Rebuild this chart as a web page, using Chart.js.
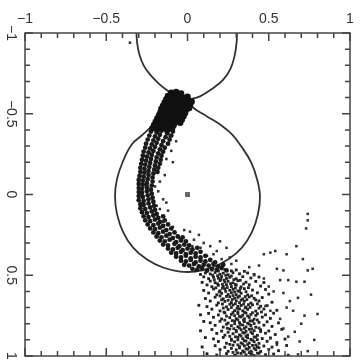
<!DOCTYPE html>
<html>
<head>
<meta charset="utf-8">
<script src="https://cdn.jsdelivr.net/npm/chart.js@4.4.0/dist/chart.umd.min.js"></script>
<style>
body { margin: 0; background: #fff; }
</style>
</head>
<body>
<canvas id="roche" width="360" height="360"></canvas>
<script>
// tick positions and labels (same on both axes)
const majorTicks = [-1, -0.5, 0, 0.5, 1];
const minorTicks = [-0.9, -0.8, -0.7, -0.6, -0.4, -0.3, -0.2, -0.1, 0.1, 0.2, 0.3, 0.4, 0.6, 0.7, 0.8, 0.9];
const tickLabels = ['\u22121', '\u22120.5', '0', '0.5', '1'];

// critical (Roche) surface
const upperLobeLeft = [[0.003,-0.588],[-0.07,-0.61],[-0.13,-0.648],[-0.18,-0.69],[-0.23,-0.742],[-0.27,-0.8],[-0.297,-0.87],[-0.31,-0.94],[-0.314,-1.0]];
const upperLobeRight = [[0.003,-0.588],[0.077,-0.608],[0.159,-0.66],[0.22,-0.711],[0.265,-0.78],[0.29,-0.86],[0.302,-0.94],[0.305,-1.0]];
const lowerLobe = [[0.003,-0.588],[0.036,-0.537],[0.118,-0.485],[0.2,-0.434],[0.274,-0.372],[0.335,-0.292],[0.391,-0.2],[0.428,-0.095],
  [0.446,0.009],[0.434,0.12],[0.397,0.231],[0.335,0.329],[0.249,0.403],[0.151,0.452],[0.046,0.477],[-0.046,0.477],[-0.151,0.452],
  [-0.249,0.403],[-0.335,0.329],[-0.397,0.231],[-0.434,0.12],[-0.446,0.009],[-0.434,-0.095],[-0.397,-0.206],[-0.342,-0.311],
  [-0.274,-0.372],[-0.2,-0.44],[-0.132,-0.495],[-0.065,-0.551],[0.003,-0.588]];

// the accretor
const primaryStar = [[0, 0]];

// dense clump at L1
const blobPoints = [
  [-0.1,-0.63],[-0.07,-0.635],[-0.04,-0.625],
  [-0.12,-0.61],[-0.09,-0.605],[-0.06,-0.61],[-0.03,-0.6],[0.0,-0.605],
  [-0.13,-0.59],[-0.1,-0.585],[-0.07,-0.59],[-0.04,-0.58],[-0.01,-0.59],[0.01,-0.58],
  [-0.14,-0.57],[-0.11,-0.565],[-0.08,-0.57],[-0.05,-0.56],[-0.02,-0.57],[0.01,-0.565],[0.025,-0.575],
  [-0.15,-0.55],[-0.12,-0.545],[-0.09,-0.55],[-0.06,-0.54],[-0.03,-0.55],[0.0,-0.545],[0.015,-0.555],
  [-0.16,-0.53],[-0.13,-0.525],[-0.1,-0.53],[-0.07,-0.52],[-0.04,-0.53],[-0.01,-0.525],[0.01,-0.535],
  [-0.165,-0.51],[-0.135,-0.505],[-0.105,-0.51],[-0.075,-0.5],[-0.045,-0.51],[-0.015,-0.505],
  [-0.175,-0.49],[-0.145,-0.485],[-0.115,-0.49],[-0.085,-0.48],[-0.055,-0.49],[-0.025,-0.485],
  [-0.185,-0.47],[-0.155,-0.465],[-0.125,-0.47],[-0.095,-0.46],[-0.065,-0.47],[-0.035,-0.465],
  [-0.195,-0.45],[-0.165,-0.445],[-0.135,-0.45],[-0.105,-0.44],[-0.075,-0.45],[-0.045,-0.445],
  [-0.205,-0.43],[-0.175,-0.425],[-0.145,-0.43],[-0.115,-0.42],[-0.085,-0.43],
  [-0.215,-0.41],[-0.185,-0.405],[-0.155,-0.41],[-0.125,-0.4],[-0.095,-0.41]
];

// stream curving round inside the lower lobe
const streamPoints = [
  [-0.225,-0.39],[-0.19,-0.385],[-0.16,-0.395],[-0.125,-0.38],[-0.09,-0.39],
  [-0.235,-0.365],[-0.2,-0.36],[-0.17,-0.37],[-0.135,-0.355],[-0.1,-0.365],
  [-0.245,-0.34],[-0.21,-0.335],[-0.18,-0.345],[-0.15,-0.33],[-0.11,-0.34],
  [-0.255,-0.315],[-0.22,-0.31],[-0.19,-0.32],[-0.16,-0.305],[-0.12,-0.315],
  [-0.26,-0.29],[-0.23,-0.285],[-0.2,-0.295],[-0.17,-0.28],[-0.14,-0.29],
  [-0.27,-0.265],[-0.24,-0.26],[-0.21,-0.27],[-0.18,-0.255],[-0.15,-0.265],
  [-0.275,-0.24],[-0.25,-0.235],[-0.22,-0.245],[-0.19,-0.23],[-0.16,-0.24],
  [-0.28,-0.215],[-0.255,-0.21],[-0.225,-0.22],[-0.195,-0.205],[-0.165,-0.215],
  [-0.285,-0.19],[-0.26,-0.185],[-0.23,-0.195],[-0.2,-0.18],[-0.17,-0.19],
  [-0.29,-0.165],[-0.265,-0.16],[-0.235,-0.17],[-0.205,-0.155],[-0.18,-0.165],
  [-0.29,-0.14],[-0.265,-0.135],[-0.24,-0.145],[-0.21,-0.13],[-0.185,-0.14],
  [-0.295,-0.115],[-0.27,-0.11],[-0.24,-0.12],[-0.215,-0.105],
  [-0.3,-0.09],[-0.275,-0.085],[-0.245,-0.095],[-0.215,-0.08],
  [-0.3,-0.065],[-0.275,-0.06],[-0.25,-0.07],[-0.22,-0.055],
  [-0.3,-0.04],[-0.28,-0.035],[-0.25,-0.045],[-0.225,-0.03],
  [-0.3,-0.015],[-0.28,-0.01],[-0.25,-0.02],[-0.22,-0.005],
  [-0.3,0.01],[-0.275,0.015],[-0.245,0.005],[-0.215,0.02],
  [-0.3,0.035],[-0.27,0.04],[-0.24,0.03],[-0.21,0.045],
  [-0.29,0.06],[-0.27,0.065],[-0.24,0.055],[-0.205,0.07],
  [-0.29,0.085],[-0.26,0.09],[-0.23,0.08],[-0.2,0.095],
  [-0.28,0.11],[-0.25,0.115],[-0.22,0.105],[-0.19,0.12],
  [-0.27,0.135],[-0.24,0.14],[-0.21,0.13],[-0.18,0.145],[-0.15,0.135],
  [-0.26,0.16],[-0.23,0.165],[-0.2,0.155],[-0.17,0.17],[-0.14,0.16],
  [-0.245,0.185],[-0.21,0.19],[-0.18,0.18],[-0.15,0.195],[-0.12,0.185],
  [-0.23,0.21],[-0.2,0.215],[-0.17,0.205],[-0.13,0.22],[-0.1,0.21],
  [-0.21,0.235],[-0.18,0.24],[-0.15,0.23],[-0.11,0.245],[-0.08,0.235],
  [-0.19,0.26],[-0.16,0.265],[-0.13,0.255],[-0.09,0.27],[-0.06,0.26],[-0.03,0.265],
  [-0.17,0.285],[-0.14,0.29],[-0.11,0.28],[-0.07,0.295],[-0.04,0.285],[-0.01,0.29],
  [-0.15,0.31],[-0.12,0.315],[-0.08,0.305],[-0.05,0.32],[-0.02,0.31],[0.01,0.315],
  [-0.12,0.335],[-0.09,0.34],[-0.06,0.33],[-0.03,0.345],[0.0,0.335],[0.03,0.34],[0.06,0.33],
  [-0.1,0.36],[-0.07,0.365],[-0.04,0.355],[-0.01,0.37],[0.02,0.36],[0.05,0.365],[0.08,0.355],
  [-0.07,0.385],[-0.04,0.39],[-0.01,0.38],[0.02,0.395],[0.05,0.385],[0.08,0.39],[0.11,0.38],
  [-0.04,0.41],[-0.01,0.415],[0.02,0.405],[0.05,0.42],[0.08,0.41],[0.11,0.415],[0.14,0.405],[0.17,0.42],
  [-0.02,0.435],[0.01,0.44],[0.04,0.43],[0.07,0.445],[0.1,0.435],[0.13,0.44],[0.16,0.43],[0.19,0.445],[0.22,0.435],
  [0.03,0.46],[0.06,0.465],[0.09,0.455],[0.12,0.47],[0.15,0.46],[0.18,0.465],[0.21,0.455],[0.24,0.47]
];

// loose particles beside the stream and to the right
const speckPoints = [
  [-0.11,-0.36],[-0.07,-0.33],[-0.1,-0.27],[-0.13,-0.22],[-0.09,-0.2],[-0.14,-0.12],[-0.17,-0.08],[-0.18,-0.02],
  [-0.15,0.03],[-0.19,0.07],[-0.17,0.09],[-0.21,0.05],[-0.15,0.17],[-0.09,0.2],[0.015,0.23],[-0.05,0.27],
  [0.03,0.32],[0.08,0.33],[0.14,0.32],[0.2,0.29],[0.18,0.35],[0.24,0.33],[0.12,0.38],[0.16,0.37],[0.21,0.4],
  [0.26,0.39],[0.04,0.28],[0.1,0.3],[-0.12,0.1],[-0.13,0.05],[-0.02,0.22],[0.07,0.25],[-0.2,-0.05],[0.27,0.43],
  [0.3,0.41],[-0.354,-0.94],
  [0.74,0.12],[0.74,0.16],[0.73,0.21],[0.67,0.32],[0.47,0.37],[0.51,0.36],[0.54,0.35],[0.61,0.37],[0.71,0.4],
  [0.55,0.46],[0.59,0.47],[0.77,0.46],[0.74,0.47],[0.47,0.52],[0.57,0.53],[0.62,0.53],[0.67,0.54],[0.72,0.54],
  [0.53,0.6],[0.59,0.61],[0.68,0.64],[0.61,0.7],[0.65,0.72],[0.72,0.75],[0.8,0.74],[0.48,0.69],[0.51,0.72],
  [0.57,0.77],[0.59,0.83],[0.66,0.85],[0.69,0.91],[0.51,0.89],[0.55,0.93],[0.74,0.97],[0.68,0.99],[0.44,0.44],
  [0.38,0.45],[0.41,0.5],[0.5,0.57],[0.63,0.66],[0.76,0.62],[0.62,0.88],[0.7,0.8],[0.78,0.9]
];

// spray below the lobe
const tailPoints = [
  [0.05,0.472],[0.09,0.466],[0.12,0.475],[0.15,0.468],[0.19,0.474],[0.23,0.465],[0.27,0.473],[0.3,0.467],[0.35,0.476],
  [0.08,0.495],[0.11,0.486],[0.14,0.492],[0.17,0.483],[0.2,0.494],[0.22,0.487],[0.25,0.497],[0.28,0.484],[0.32,0.491],[0.37,0.486],[0.41,0.495],
  [0.1,0.51],[0.13,0.521],[0.16,0.512],[0.19,0.518],[0.21,0.508],[0.24,0.52],[0.26,0.513],[0.3,0.522],[0.34,0.509],[0.39,0.517],[0.44,0.511],
  [0.09,0.544],[0.14,0.536],[0.17,0.546],[0.2,0.533],[0.23,0.542],[0.25,0.537],[0.28,0.547],[0.31,0.534],[0.36,0.543],[0.42,0.538],[0.47,0.545],
  [0.12,0.56],[0.15,0.571],[0.19,0.562],[0.22,0.569],[0.24,0.558],[0.27,0.57],[0.3,0.561],[0.33,0.572],[0.38,0.559],[0.45,0.567],
  [0.1,0.594],[0.16,0.585],[0.2,0.596],[0.23,0.584],[0.26,0.593],[0.28,0.587],[0.31,0.597],[0.35,0.583],[0.4,0.592],[0.48,0.588],
  [0.13,0.61],[0.18,0.621],[0.21,0.612],[0.25,0.619],[0.27,0.608],[0.3,0.62],[0.33,0.611],[0.37,0.622],[0.43,0.609],[0.5,0.617],
  [0.11,0.644],[0.17,0.636],[0.22,0.646],[0.26,0.633],[0.29,0.642],[0.31,0.637],[0.34,0.647],[0.38,0.634],[0.41,0.643],[0.46,0.638],
  [0.14,0.66],[0.19,0.671],[0.23,0.662],[0.27,0.669],[0.3,0.658],[0.32,0.67],[0.35,0.661],[0.39,0.672],[0.44,0.659],[0.52,0.667],
  [0.07,0.686],[0.12,0.694],[0.18,0.685],[0.24,0.696],[0.28,0.684],[0.31,0.693],[0.33,0.687],[0.36,0.697],[0.4,0.683],[0.45,0.692],[0.49,0.688],
  [0.15,0.71],[0.2,0.721],[0.25,0.712],[0.29,0.719],[0.32,0.708],[0.34,0.72],[0.37,0.711],[0.42,0.722],[0.47,0.709],[0.55,0.717],
  [0.08,0.745],[0.13,0.736],[0.19,0.746],[0.23,0.733],[0.27,0.742],[0.31,0.737],[0.34,0.747],[0.36,0.734],[0.39,0.743],[0.43,0.738],[0.48,0.745],[0.53,0.735],
  [0.16,0.76],[0.21,0.771],[0.26,0.762],[0.3,0.769],[0.33,0.758],[0.35,0.77],[0.38,0.761],[0.41,0.772],[0.46,0.759],[0.51,0.767],
  [0.1,0.786],[0.14,0.794],[0.2,0.785],[0.25,0.796],[0.29,0.784],[0.32,0.793],[0.35,0.787],[0.37,0.797],[0.4,0.783],[0.44,0.792],[0.49,0.788],[0.56,0.795],
  [0.17,0.81],[0.22,0.821],[0.27,0.812],[0.31,0.819],[0.34,0.808],[0.36,0.82],[0.39,0.811],[0.42,0.822],[0.47,0.809],[0.52,0.817],
  [0.08,0.844],[0.15,0.836],[0.21,0.846],[0.26,0.833],[0.3,0.842],[0.33,0.837],[0.36,0.847],[0.38,0.834],[0.41,0.843],[0.45,0.838],[0.5,0.845],[0.58,0.835],
  [0.18,0.86],[0.23,0.871],[0.28,0.862],[0.32,0.869],[0.35,0.858],[0.37,0.87],[0.4,0.861],[0.43,0.872],[0.48,0.859],[0.54,0.867],
  [0.11,0.886],[0.16,0.894],[0.22,0.885],[0.27,0.896],[0.31,0.884],[0.34,0.893],[0.37,0.887],[0.39,0.897],[0.42,0.883],[0.46,0.892],[0.51,0.888],[0.6,0.895],
  [0.19,0.91],[0.24,0.921],[0.29,0.912],[0.33,0.919],[0.36,0.908],[0.38,0.92],[0.41,0.911],[0.44,0.922],[0.49,0.909],[0.55,0.917],
  [0.09,0.944],[0.17,0.936],[0.23,0.946],[0.28,0.933],[0.32,0.942],[0.35,0.937],[0.38,0.947],[0.4,0.934],[0.43,0.943],[0.47,0.938],[0.52,0.945],[0.61,0.935],
  [0.2,0.96],[0.25,0.971],[0.3,0.962],[0.34,0.969],[0.37,0.958],[0.39,0.97],[0.42,0.961],[0.45,0.972],[0.5,0.959],[0.56,0.967],
  [0.12,0.986],[0.18,0.994],[0.24,0.985],[0.29,0.996],[0.33,0.984],[0.36,0.993],[0.39,0.987],[0.41,0.997],[0.44,0.983],[0.48,0.992],[0.53,0.988],[0.62,0.995]
];

// denser core of the spray
const tailCorePoints = [
  [0.185,0.503],[0.235,0.5],[0.27,0.505],[0.155,0.5],
  [0.165,0.528],[0.225,0.53],[0.285,0.527],[0.325,0.531],[0.205,0.525],
  [0.185,0.553],[0.215,0.556],[0.265,0.552],[0.295,0.557],[0.345,0.554],
  [0.175,0.578],[0.215,0.58],[0.245,0.576],[0.295,0.579],[0.325,0.582],[0.375,0.577],
  [0.195,0.603],[0.235,0.6],[0.29,0.604],[0.32,0.6],[0.36,0.602],
  [0.2,0.628],[0.24,0.631],[0.28,0.626],[0.32,0.629],[0.355,0.632],[0.395,0.627],
  [0.21,0.652],[0.25,0.655],[0.275,0.65],[0.33,0.654],[0.365,0.651],[0.42,0.653],
  [0.215,0.678],[0.26,0.68],[0.295,0.676],[0.345,0.679],[0.375,0.682],[0.43,0.677],
  [0.22,0.703],[0.27,0.7],[0.305,0.705],[0.355,0.702],[0.385,0.699],[0.44,0.704],
  [0.225,0.728],[0.28,0.731],[0.31,0.726],[0.35,0.729],[0.4,0.732],[0.455,0.727],
  [0.24,0.753],[0.29,0.75],[0.32,0.755],[0.37,0.752],[0.42,0.749],
  [0.23,0.778],[0.275,0.781],[0.31,0.776],[0.345,0.779],[0.385,0.782],[0.43,0.777],
  [0.24,0.803],[0.29,0.8],[0.325,0.805],[0.38,0.802],[0.41,0.799],
  [0.245,0.828],[0.285,0.831],[0.32,0.826],[0.35,0.829],[0.395,0.832],[0.44,0.827],
  [0.25,0.853],[0.3,0.85],[0.34,0.855],[0.39,0.852],[0.45,0.849],
  [0.26,0.878],[0.295,0.881],[0.33,0.876],[0.36,0.879],[0.41,0.882],
  [0.27,0.903],[0.31,0.9],[0.35,0.905],[0.4,0.902],[0.43,0.899],
  [0.26,0.928],[0.31,0.931],[0.34,0.926],[0.37,0.929],[0.42,0.932],
  [0.27,0.953],[0.32,0.95],[0.36,0.955],[0.41,0.952],[0.44,0.949],
  [0.28,0.978],[0.31,0.981],[0.35,0.976],[0.38,0.979],[0.43,0.982]
];

const toXY = p => ({ x: p[0], y: p[1] });

function pointSet(list, radius, colour, style) {
    return {
        data: list.map(toXY),
        pointRadius: radius,
        pointStyle: style || 'circle',
        backgroundColor: colour,
        borderWidth: 0
    };
}

function lineSet(list) {
    return {
        data: list.map(toXY),
        showLine: true,
        pointRadius: 0,
        borderColor: '#333',
        borderWidth: 1.8,
        tension: 0.4
    };
}

// frame with inward ticks on all four sides, labels top and left
const framePlugin = {
    id: 'frame',
    afterDraw(chart) {
        const ctx = chart.ctx;
        const xs = chart.scales.x;
        const ys = chart.scales.y;
        const a = chart.chartArea;
        ctx.save();
        ctx.strokeStyle = '#444';
        ctx.lineWidth = 1.5;
        ctx.strokeRect(a.left, a.top, a.right - a.left, a.bottom - a.top);

        ctx.beginPath();
        function tick(v, len) {
            const px = xs.getPixelForValue(v);
            const py = ys.getPixelForValue(v);
            ctx.moveTo(px, a.top); ctx.lineTo(px, a.top + len);
            ctx.moveTo(px, a.bottom); ctx.lineTo(px, a.bottom - len);
            ctx.moveTo(a.left, py); ctx.lineTo(a.left + len, py);
            ctx.moveTo(a.right, py); ctx.lineTo(a.right - len, py);
        }
        majorTicks.forEach(v => tick(v, 8));
        minorTicks.forEach(v => tick(v, 5));
        ctx.stroke();

        ctx.fillStyle = '#333';
        ctx.font = '14px "Liberation Sans", Arial, sans-serif';
        ctx.textAlign = 'center';
        ctx.textBaseline = 'alphabetic';
        majorTicks.forEach((v, i) => {
            ctx.fillText(tickLabels[i], xs.getPixelForValue(v), 23);
        });
        majorTicks.forEach((v, i) => {
            ctx.save();
            ctx.translate(11, ys.getPixelForValue(v));
            ctx.rotate(Math.PI / 2);
            ctx.textBaseline = 'middle';
            ctx.fillText(tickLabels[i], 0, 0);
            ctx.restore();
        });
        ctx.restore();
    }
};

new Chart(document.getElementById('roche'), {
    type: 'scatter',
    data: {
        datasets: [
            pointSet(blobPoints, 3.3, '#111'),
            pointSet(streamPoints, 2.4, '#1a1a1a'),
            pointSet(speckPoints, 1.8, '#333', 'rect'),
            pointSet(tailPoints, 2.0, '#222', 'rect'),
            pointSet(tailCorePoints, 2.0, '#2a2a2a', 'rect'),
            pointSet(primaryStar, 3.5, '#666', 'rect'),
            lineSet(lowerLobe),
            lineSet(upperLobeLeft),
            lineSet(upperLobeRight)
        ]
    },
    options: {
        responsive: false,
        animation: false,
        devicePixelRatio: 1,
        layout: { padding: { left: 25, top: 33, right: 10, bottom: 2 } },
        scales: {
            x: { type: 'linear', min: -1, max: 1, display: false },
            y: { type: 'linear', min: -1, max: 1, reverse: true, display: false }
        },
        plugins: {
            legend: { display: false },
            tooltip: { enabled: false }
        }
    },
    plugins: [framePlugin]
});
</script>
</body>
</html>
